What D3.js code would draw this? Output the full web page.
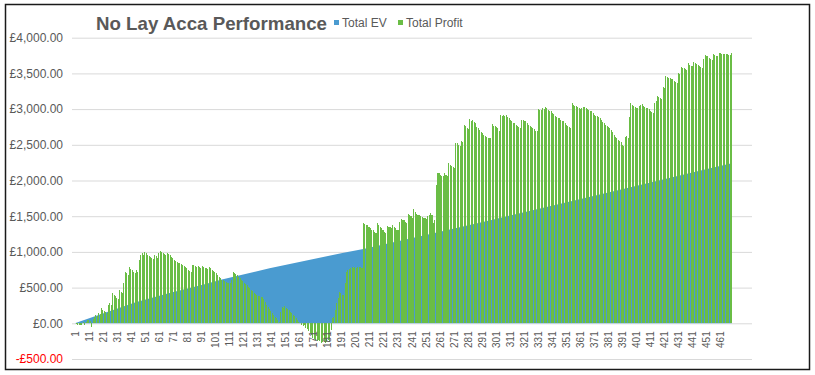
<!DOCTYPE html>
<html>
<head>
<meta charset="utf-8">
<script src="https://cdn.jsdelivr.net/npm/d3@7"></script>
<style>
  body { margin: 0; background: #fff; }
  svg { display: block; font-family: "Liberation Sans", Arial, sans-serif; }
</style>
</head>
<body>
<div id="chart"></div>
<script>
// No Lay Acca Performance - EV area + profit columns

// Total Profit per bet number (1..470)
const profit = [
  0, -10, -25, -30, -20, -30, 15, -25, 20, 40,
  50, 30, -50, 60, 90, 120, 100, 150, 130, 220,
  190, 170, 160, 150, 250, 285, 260, 430, 400, 380,
  360, 340, 465, 440, 420, 560, 720, 700, 680, 785,
  760, 740, 720, 700, 745, 720, 880, 960, 980, 960,
  1000, 980, 960, 940, 930, 910, 900, 955, 940, 920,
  990, 1015, 1000, 990, 970, 950, 985, 970, 955, 930,
  910, 890, 875, 860, 850, 840, 825, 810, 800, 790,
  770, 750, 735, 720, 815, 810, 800, 790, 800, 785,
  775, 800, 790, 780, 770, 760, 790, 770, 750, 735,
  720, 700, 680, 650, 630, 610, 600, 590, 580, 570,
  565, 560, 600, 720, 700, 690, 670, 650, 630, 610,
  590, 570, 550, 530, 510, 490, 470, 450, 430, 410,
  395, 385, 380, 375, 370, 340, 300, 260, 230, 200,
  170, 140, 110, 90, 70, 40, 20, 160, 230, 220,
  240, 220, 200, 180, 160, 140, 120, 100, 70, 40,
  20, 0, -20, -40, -20, -60, -80, -110, -140, -170,
  -200, -220, -240, -250, -230, -250, -270, -260, -250, -270,
  -260, -240, -250, -100, 75, 90, 180, 285, 350, 440,
  420, 400, 395, 560, 720, 740, 760, 780, 785, 770,
  785, 780, 790, 785, 785, 780, 1400, 1390, 1380, 1376,
  1350, 1330, 1310, 1300, 1283, 1270, 1400, 1380, 1350, 1330,
  1310, 1283, 1270, 1362, 1355, 1350, 1340, 1376, 1350, 1330,
  1306, 1300, 1420, 1456, 1450, 1440, 1420, 1400, 1530, 1520,
  1500, 1480, 1596, 1560, 1530, 1520, 1510, 1500, 1490, 1480,
  1470, 1460, 1500, 1520, 1540, 1520, 1400, 1450, 1936, 2110,
  2100, 2080, 2070, 2060, 2100, 2080, 2070, 2240, 2220, 2200,
  2190, 2180, 2530, 2520, 2500, 2480, 2560, 2540, 2780, 2760,
  2730, 2720, 2855, 2840, 2850, 2820, 2800, 2750, 2730, 2710,
  2680, 2660, 2640, 2630, 2610, 2600, 2595, 2590, 2785, 2770,
  2760, 2750, 2730, 2700, 2915, 2910, 2920, 2910, 2915, 2890,
  2870, 2850, 2830, 2810, 2800, 2780, 2770, 2750, 2740, 2850,
  2845, 2840, 2830, 2810, 2780, 2770, 2750, 2730, 2720, 2700,
  2690, 3000, 2990, 2990, 3010, 3000, 3030, 3010, 2990, 2980,
  2970, 2950, 2930, 2910, 2890, 2880, 2870, 2850, 2840, 2830,
  2800, 2780, 2760, 2745, 2740, 3080, 3060, 3050, 3040, 3030,
  3010, 3000, 3020, 3030, 3030, 3010, 3000, 2990, 2980, 2970,
  2940, 2915, 2910, 2900, 2890, 2870, 2850, 2820, 2800, 2780,
  2760, 2750, 2730, 2705, 2680, 2635, 2610, 2590, 2570, 2560,
  2540, 2500, 2490, 2610, 2620, 2600, 2890, 3090, 3060, 3040,
  3030, 3020, 3010, 3040, 3060, 3070, 3050, 3030, 3020, 3010,
  3000, 2980, 2960, 2950, 3090, 3120, 3180, 3170, 3150, 3140,
  3310, 3300, 3460, 3450, 3440, 3430, 3425, 3420, 3400, 3380,
  3370, 3500, 3490, 3590, 3580, 3570, 3560, 3550, 3640, 3620,
  3610, 3600, 3660, 3650, 3630, 3620, 3600, 3590, 3580, 3700,
  3760, 3750, 3740, 3720, 3700, 3690, 3770, 3760, 3750, 3740,
  3790, 3780, 3775, 3770, 3770, 3770, 3765, 3760, 3760, 3790
];

// Total EV, read at these bet numbers
const evBets = [1, 20, 45, 70, 93, 106, 140, 192, 207, 250, 300, 350, 400, 450, 470];
const evValues = [0, 130, 300, 430, 545, 615, 770, 985, 1040, 1230, 1455, 1685, 1915, 2150, 2240];

const bets = profit.map((d, i) => i + 1);
const xTickLabels = bets.filter(b => b % 10 === 1);
const yTicks = [-500, 0, 500, 1000, 1500, 2000, 2500, 3000, 3500, 4000];

const seriesNames = ["Total EV", "Total Profit"];
const colors = ["#4a9bd0", "#6abd45"];

const width = 815, height = 375;

const svg = d3.select("#chart")
  .append("svg")
  .attr("width", width)
  .attr("height", height);

// chart frame
svg.append("rect")
  .attr("x", 5.5).attr("y", 4.5)
  .attr("width", 804).attr("height", 365)
  .attr("fill", "#fff")
  .attr("stroke", "#1a1a1a")
  .attr("stroke-width", 1.5);

const plotLeft = 72, plotRight = 752;

const x = d3.scaleBand()
  .domain(bets)
  .range([74.3, 732.3])
  .paddingInner(0.25);

const y = d3.scaleLinear()
  .domain([-500, 4000])
  .range([359, 37.7]);

// gridlines
svg.append("g")
  .attr("transform", `translate(${plotLeft},0)`)
  .call(d3.axisLeft(y).tickValues(yTicks).tickSize(-(plotRight - plotLeft)).tickFormat(""))
  .call(g => g.select(".domain").remove())
  .call(g => g.selectAll("line").attr("stroke", "#d9d9d9").attr("stroke-width", 1));

// y labels
const money = v => (v < 0 ? "-" : "") + "£" + d3.format(",.2f")(Math.abs(v));
svg.append("g")
  .attr("transform", `translate(${plotLeft},0)`)
  .call(d3.axisLeft(y).tickValues(yTicks).tickSize(0).tickPadding(9).tickFormat(money))
  .call(g => g.select(".domain").remove())
  .call(g => g.selectAll("text")
    .attr("font-family", "Liberation Sans, Arial, sans-serif")
    .attr("font-size", 12)
    .attr("fill", d => d < 0 ? "#ff0000" : "#595959"));

// EV area
const cx = b => x(b) + x.bandwidth() / 2;
const evData = evBets.map((b, i) => ({ bet: b, value: evValues[i] }));
svg.append("path")
  .datum(evData)
  .attr("fill", colors[0])
  .attr("d", d3.area()
    .x(d => cx(d.bet))
    .y0(y(0))
    .y1(d => y(d.value)));

// profit columns
svg.append("g")
  .attr("shape-rendering", "crispEdges")
  .selectAll("rect")
  .data(profit)
  .join("rect")
  .attr("x", (d, i) => x(bets[i]))
  .attr("width", x.bandwidth())
  .attr("y", d => y(Math.max(0, d)))
  .attr("height", d => Math.abs(y(d) - y(0)))
  .attr("fill", colors[1]);

// x labels (every 10th bet)
svg.append("g")
  .attr("transform", `translate(0,${y(0)})`)
  .call(d3.axisBottom(x).tickValues(xTickLabels).tickSize(0))
  .call(g => g.select(".domain").remove())
  .call(g => g.selectAll("text")
    .attr("font-family", "Liberation Sans, Arial, sans-serif")
    .attr("font-size", 10)
    .attr("fill", "#595959")
    .attr("transform", "rotate(-90)")
    .attr("text-anchor", "end")
    .attr("x", -8)
    .attr("y", 0)
    .attr("dy", "0.45em"));

// title
svg.append("text")
  .attr("x", 96).attr("y", 30)
  .attr("font-size", 19)
  .attr("font-weight", "bold")
  .attr("fill", "#595959")
  .attr("textLength", 231)
  .attr("lengthAdjust", "spacingAndGlyphs")
  .text("No Lay Acca Performance");

// legend
const legendX = [334, 398];
const legend = svg.append("g")
  .selectAll("g")
  .data(seriesNames)
  .join("g")
  .attr("transform", (d, i) => `translate(${legendX[i]},20)`);

legend.append("rect")
  .attr("width", 5).attr("height", 5)
  .attr("fill", (d, i) => colors[i]);

legend.append("text")
  .attr("x", 8).attr("y", 7)
  .attr("font-size", 12)
  .attr("fill", "#595959")
  .text(d => d);
</script>
</body>
</html>
